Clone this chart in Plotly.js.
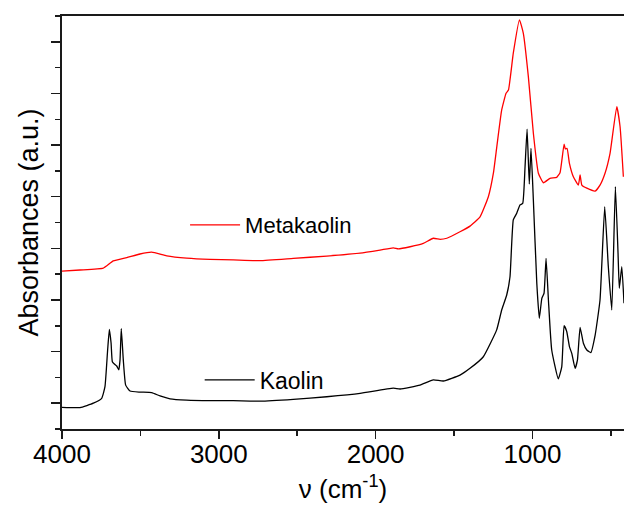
<!DOCTYPE html>
<html>
<head>
<meta charset="utf-8">
<script src="https://cdn.plot.ly/plotly-3.0.1.min.js"></script>
<style>html,body{margin:0;padding:0;background:#fff;}#chart{width:624px;height:512px;}</style>
</head>
<body>
<div id="chart"></div>
<script>
// Metakaolin spectrum (wavenumber cm-1, absorbance a.u.)
const metakaolinWavenumber = [4000,3885,3737,3673,3587,3503,3428,3332,3205,3056,2907,2737,2525,2312,2099,1972,1887,1855,1780,1696,1632,1589,1546,1462,1398,1334,1281,1249,1227,1196,1168,1153,1122,1083,1058,1026,994,962,930,888,845,824,798,790,779,764,739,707,696,685,653,600,569,537,505,462,441,420];
const metakaolinAbsorbance = [6.12,6.16,6.23,6.51,6.64,6.78,6.85,6.71,6.62,6.57,6.55,6.52,6.61,6.70,6.81,6.93,7.02,6.98,7.06,7.19,7.39,7.35,7.39,7.64,7.86,8.22,9.00,9.91,10.94,12.36,13.01,13.13,14.56,15.85,15.33,13.65,11.46,9.91,9.54,9.71,9.75,9.93,11.04,10.85,10.87,10.29,9.77,9.45,9.84,9.45,9.33,9.22,9.45,9.91,10.68,12.49,11.71,9.77];

// Kaolin spectrum
const kaolinWavenumber = [4000,3885,3800,3747,3726,3709,3698,3687,3679,3666,3651,3638,3630,3622,3609,3594,3566,3503,3428,3375,3311,3205,3056,2909,2737,2525,2312,2099,1887,1844,1717,1632,1568,1462,1398,1313,1228,1196,1164,1143,1122,1100,1079,1062,1047,1034,1020,1009,994,972,956,940,926,913,898,877,835,813,798,781,764,749,728,713,696,675,653,628,600,569,539,516,494,471,454,446,430,416];
const kaolinAbsorbance = [0.84,0.83,1.00,1.19,1.64,3.06,3.86,3.33,2.61,2.52,2.44,2.29,2.67,3.89,2.67,1.70,1.47,1.43,1.41,1.28,1.17,1.12,1.10,1.10,1.08,1.15,1.25,1.38,1.58,1.55,1.70,1.90,1.86,2.09,2.35,2.80,3.84,4.61,5.19,5.90,8.10,8.36,8.68,8.74,10.16,11.62,9.49,10.87,8.87,5.64,4.29,5.06,5.26,6.61,5.00,3.06,1.94,2.41,4.00,3.77,3.19,2.93,2.35,2.67,3.94,3.32,3.06,2.96,3.64,5.00,8.61,6.29,4.61,9.39,6.81,5.45,6.29,4.87];

const seriesNames = ["Metakaolin", "Kaolin"];
const xTickValues = [4000, 3000, 2000, 1000];
const xTickLabels = ["4000", "3000", "2000", "1000"];

const FONT = "Liberation Sans, Arial, Helvetica, sans-serif";

const traces = [
  {
    x: metakaolinWavenumber, y: metakaolinAbsorbance, name: seriesNames[0],
    type: "scatter", mode: "lines", line: {color: "#ff0000", width: 1.3, shape: "spline", smoothing: 0.4},
    legend: "legend"
  },
  {
    x: kaolinWavenumber, y: kaolinAbsorbance, name: seriesNames[1],
    type: "scatter", mode: "lines", line: {color: "#000000", width: 1.3, shape: "spline", smoothing: 0.4},
    legend: "legend2"
  }
];

const legendCommon = {
  xanchor: "left", yanchor: "middle", bgcolor: "rgba(0,0,0,0)", borderwidth: 0,
  font: {family: FONT, size: 22, color: "#000"}, itemwidth: 50
};

const layout = {
  width: 624, height: 512,
  margin: {l: 62, r: 0, t: 16, b: 83, pad: 0},
  paper_bgcolor: "#fff", plot_bgcolor: "#fff",
  showlegend: true,
  legend: Object.assign({}, legendCommon, {x: 0.219, y: 0.494}),
  legend2: Object.assign({}, legendCommon, {x: 0.245, y: 0.119, font: {family: FONT, size: 23, color: "#000"}}),
  xaxis: {
    range: [4000, 416], showgrid: false, zeroline: false,
    showline: true, linecolor: "#1a1a1a", linewidth: 1.6, mirror: true,
    ticks: "outside", ticklen: 8, tickwidth: 1.5, tickcolor: "#1a1a1a",
    tickmode: "array", tickvals: xTickValues, ticktext: xTickLabels,
    ticklabelstandoff: -7,
    minor: {dtick: 500, tick0: 0, ticks: "outside", ticklen: 5, tickwidth: 1.5, tickcolor: "#1a1a1a", showgrid: false},
    tickfont: {family: FONT, size: 26, color: "#000"},
    title: {text: "ν (cm<sup>-1</sup>)", font: {family: FONT, size: 26, color: "#000"}, standoff: 12},
    automargin: false
  },
  yaxis: {
    range: [0, 16], showgrid: false, zeroline: false,
    showline: true, linecolor: "#1a1a1a", linewidth: 1.6, mirror: false,
    ticks: "outside", ticklen: 9, tickwidth: 1.5, tickcolor: "#1a1a1a",
    tick0: 1, dtick: 2, showticklabels: false,
    minor: {dtick: 1, tick0: 0, ticks: "outside", ticklen: 5, tickwidth: 1.5, tickcolor: "#1a1a1a", showgrid: false},
    title: {text: "Absorbances (a.u.)", font: {family: FONT, size: 27, color: "#000"}, standoff: 5},
    automargin: false
  }
};

Plotly.newPlot("chart", traces, layout, {displayModeBar: false, staticPlot: true});
</script>
</body>
</html>
